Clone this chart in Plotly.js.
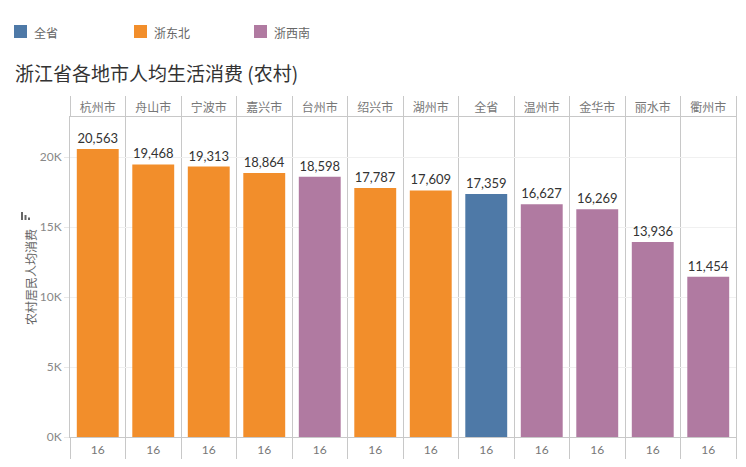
<!DOCTYPE html>
<html>
<head>
<meta charset="utf-8">
<script src="https://cdn.plot.ly/plotly-3.0.1.min.js"></script>
<style>html,body{margin:0;padding:0;background:#fff;}#chart{width:746px;height:467px;}</style>
</head>
<body>
<div id="chart"></div>
<script>
const cities = ['杭州市','舟山市','宁波市','嘉兴市','台州市','绍兴市','湖州市','全省','温州市','金华市','丽水市','衢州市'];
const values = [20563,19468,19313,18864,18598,17787,17609,17359,16627,16269,13936,11454];
const cityRegion = ['浙东北','浙东北','浙东北','浙东北','浙西南','浙东北','浙东北','全省','浙西南','浙西南','浙西南','浙西南'];
const yearLabels = ['16','16','16','16','16','16','16','16','16','16','16','16'];
const regions = ['全省','浙东北','浙西南'];
const regionColors = ['#4E79A7','#F28E2B','#B07AA1'];
const yTickVals = [0,5000,10000,15000,20000];
const yTickText = ['0K','5K','10K','15K','20K'];

const W = 746, H = 467;
const M = {l:70, r:10, t:117, b:30};
const PW = W - M.l - M.r, PH = H - M.t - M.b;
const px = x => (x - M.l) / PW;
const py = y => (H - M.b - y) / PH;

const CJK = '"Noto Sans CJK SC", sans-serif';
const NUM = 'Lato, "Noto Sans", sans-serif';
const GRID = '#c8c8c8';

const colorOf = r => regionColors[regions.indexOf(r)];

const traces = [
  {
    type:'bar', x: cities, y: values,
    marker:{color: cityRegion.map(colorOf)},
    texttemplate:'%{y:,}', textposition:'outside', cliponaxis:false,
    textfont:{family:NUM, size:13, color:'#333'},
    hoverinfo:'x+y', showlegend:false
  },
  {
    type:'scatter', mode:'markers', x: cities, y: values, xaxis:'x2',
    marker:{opacity:0}, hoverinfo:'skip', showlegend:false
  }
];

const shapes = [], annotations = [];
regions.forEach((r,i) => {
  const x0 = 14 + i*120;
  shapes.push({type:'rect', xref:'paper', yref:'paper',
    x0:px(x0), x1:px(x0+13), y0:py(25), y1:py(38),
    fillcolor:regionColors[i], line:{width:0}});
  annotations.push({xref:'paper', yref:'paper', x:px(x0+18), y:py(32),
    xanchor:'left', yanchor:'middle', showarrow:false, text:r,
    font:{family:CJK, size:12, color:'#666'}});
});
// small sort indicator next to the y-axis title
[[21,23,212],[24.5,26.5,215],[28,30,217.5]].forEach(b => {
  shapes.push({type:'rect', xref:'paper', yref:'paper',
    x0:px(b[0]), x1:px(b[1]), y0:py(220), y1:py(b[2]),
    fillcolor:'#666', line:{width:0}});
});

const layout = {
  width:W, height:H, margin:M,
  paper_bgcolor:'#fff', plot_bgcolor:'#fff',
  bargap:0.245,
  showlegend:false,
  title:{text:'浙江省各地市人均生活消费 (农村)', xref:'container', yref:'container',
    x:15/W, xanchor:'left', y:1-74/H, yanchor:'middle',
    font:{family:CJK, size:19, color:'#333'}},
  xaxis:{type:'category', categoryorder:'array', categoryarray:cities, range:[-0.5,11.5],
    tickmode:'array', tickvals:cities, ticktext:yearLabels, tickson:'boundaries',
    ticks:'outside', ticklen:21, tickcolor:GRID, tickwidth:1,
    ticklabelstandoff:2,
    showgrid:true, gridcolor:GRID, gridwidth:1,
    showline:true, linecolor:GRID, linewidth:1, zeroline:false,
    tickfont:{family:NUM, size:12, color:'#777'}, fixedrange:true},
  xaxis2:{type:'category', categoryorder:'array', categoryarray:cities, range:[-0.5,11.5],
    overlaying:'x', side:'top', anchor:'y',
    tickmode:'array', tickvals:cities, ticktext:cities, tickson:'boundaries',
    ticks:'outside', ticklen:20, tickcolor:GRID, tickwidth:1,
    ticklabelstandoff:-1,
    showgrid:false, showline:true, linecolor:GRID, linewidth:1, zeroline:false,
    tickfont:{family:CJK, size:12, color:'#777'}, fixedrange:true},
  yaxis:{range:[0,22857], tickmode:'array', tickvals:yTickVals, ticktext:yTickText,
    ticks:'outside', ticklen:5, tickcolor:'#e8e8e8',
    showgrid:true, gridcolor:'#f0f0f0', gridwidth:1,
    showline:true, mirror:true, linecolor:GRID, linewidth:1, zeroline:false,
    tickfont:{family:NUM, size:12, color:'#888'},
    title:{text:'农村居民人均消费', standoff:0, font:{family:CJK, size:12, color:'#666'}},
    fixedrange:true},
  shapes:shapes,
  annotations:annotations
};

Plotly.newPlot('chart', traces, layout, {displayModeBar:false, staticPlot:true});
</script>
</body>
</html>
